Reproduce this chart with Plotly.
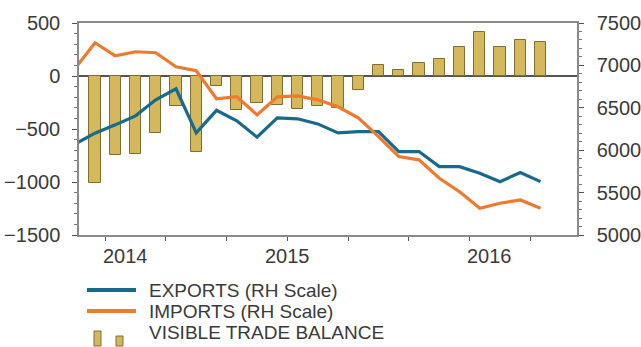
import plotly.graph_objects as go

# Monthly visible trade balance (left scale)
balance = [-1010, -744, -738, -534, -282, -719, -95, -322, -250, -272, -315, -282,
           -300, -128, 106, 52, 122, 160, 274, 412, 274, 336, 317]

# Exports and imports (right scale); one extra leading month before the first bar
exports = [6070, 6201, 6299, 6405, 6594, 6724, 6205, 6470, 6346, 6154, 6382, 6370,
           6310, 6204, 6220, 6220, 5984, 5984, 5806, 5806, 5729, 5629, 5736, 5629]
imports = [6960, 7267, 7114, 7161, 7149, 6984, 6937, 6606, 6630, 6417, 6630, 6641,
           6594, 6512, 6382, 6161, 5925, 5886, 5669, 5511, 5315, 5374, 5413, 5315]

year_labels = ["2014", "2015", "2016"]

legend_labels = ["EXPORTS (RH Scale)", "IMPORTS (RH Scale)", "VISIBLE TRADE BALANCE"]

BLUE = "#186a8c"
ORANGE = "#ef7a2e"
BAR_FILL = "#d5b85c"
BAR_LINE = "#7f6e33"
TEXT = "#3a3a3a"
AXIS = "#8a8a8a"
TICK = "#555555"
FONT = "Liberation Sans, Arial, sans-serif"

W, H = 641, 347
L, R, T, B = 79, 64, 23, 112

bar_x = list(range(len(balance)))
line_x = list(range(-1, len(exports) - 1))
year_pos = [1.5, 9.5, 19.5]
x_range = [-0.79, 23.8]

fig = go.Figure()
fig.add_trace(go.Bar(x=bar_x, y=balance, width=0.55,
                     marker=dict(color=BAR_FILL, line=dict(color=BAR_LINE, width=1)),
                     showlegend=False, yaxis="y"))
fig.add_trace(go.Scatter(x=line_x, y=exports, mode="lines",
                         line=dict(color=BLUE, width=3.2), showlegend=False, yaxis="y2"))
fig.add_trace(go.Scatter(x=line_x, y=imports, mode="lines",
                         line=dict(color=ORANGE, width=3.2), showlegend=False, yaxis="y2"))

tick_font = dict(size=20, color=TEXT)

fig.update_layout(
    width=W, height=H,
    margin=dict(l=L, r=R, t=T, b=B, pad=0, autoexpand=False),
    paper_bgcolor="white", plot_bgcolor="white",
    font=dict(family=FONT, color=TEXT, size=18),
    bargap=0,
    # quarterly tick marks
    xaxis=dict(range=x_range, tickmode="linear", tick0=0.5, dtick=3,
               ticks="outside", ticklen=4, tickcolor=TICK, showticklabels=False,
               showgrid=False, zeroline=False, automargin=False,
               showline=True, linecolor=AXIS, linewidth=1.5, mirror=True),
    yaxis=dict(range=[-1500, 500], tickmode="linear", tick0=-1500, dtick=500,
               ticks="outside", ticklen=5, tickcolor=TICK, showgrid=False,
               zeroline=True, zerolinecolor="#555", zerolinewidth=1.5,
               showline=True, linecolor=AXIS, linewidth=1.5, automargin=False,
               ticklabelstandoff=8,
               minor=dict(dtick=100, ticks="outside", ticklen=3, tickcolor="#777"),
               tickfont=tick_font),
    yaxis2=dict(range=[5000, 7500], overlaying="y", side="right", tickmode="linear",
                tick0=5000, dtick=500, ticks="outside", ticklen=5, tickcolor=TICK,
                showgrid=False, zeroline=False, showline=True, linecolor=AXIS,
                linewidth=1.5, automargin=False, ticklabelstandoff=9,
                minor=dict(dtick=100, ticks="outside", ticklen=3, tickcolor="#777"),
                tickfont=tick_font),
)

# Legend and year labels placed in pixel-based paper coordinates
pw, ph = W - L - R, H - T - B


def px(x):
    return (x - L) / pw


def py(y):
    return (H - B - y) / ph


shapes = []
annotations = []

for label, pos in zip(year_labels, year_pos):
    annotations.append(dict(text=label, xref="x", yref="paper", x=pos, y=py(256),
                            xanchor="center", yanchor="middle", showarrow=False,
                            font=tick_font))

rows = [290, 311, 332]
for color, yrow in [(BLUE, rows[0]), (ORANGE, rows[1])]:
    shapes.append(dict(type="line", xref="paper", yref="paper",
                       x0=px(87), x1=px(136), y0=py(yrow), y1=py(yrow),
                       line=dict(color=color, width=4)))
for x0, x1, y0 in [(94, 101, 331), (116, 123, 336)]:
    shapes.append(dict(type="rect", xref="paper", yref="paper",
                       x0=px(x0), x1=px(x1), y0=py(y0), y1=py(346),
                       fillcolor=BAR_FILL, line=dict(color=BAR_LINE, width=1)))
for label, yrow in zip(legend_labels, rows):
    annotations.append(dict(text=label, xref="paper", yref="paper",
                            x=px(147), y=py(yrow), xanchor="left", yanchor="middle",
                            showarrow=False, font=dict(size=19, color=TEXT)))

fig.update_layout(shapes=shapes, annotations=annotations)

fig.write_html("out.html")
